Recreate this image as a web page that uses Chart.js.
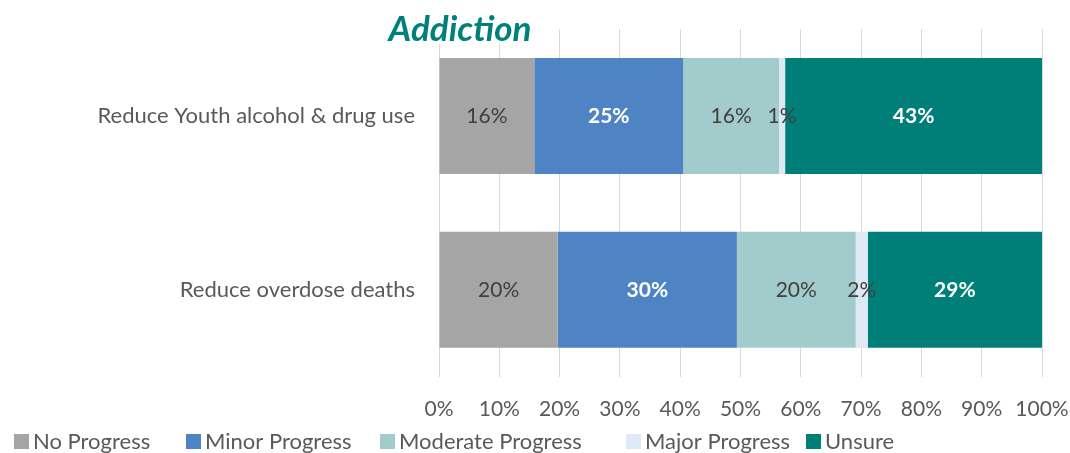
<!DOCTYPE html>
<html>
<head>
<meta charset="utf-8">
<script src="https://cdn.jsdelivr.net/npm/chart.js@4/dist/chart.umd.min.js"></script>
<style>
  html, body { margin: 0; padding: 0; background: #fff; }
  #wrap { width: 1070px; height: 453px; position: relative; }
</style>
</head>
<body>
<div id="wrap"><canvas id="myChart"></canvas></div>
<script>
(function () {
    'use strict';

    // chart data
    var categories = ['Reduce Youth alcohol & drug use', 'Reduce overdose deaths'];
    var seriesNames = ['No Progress', 'Minor Progress', 'Moderate Progress', 'Major Progress', 'Unsure'];
    var noProgress       = [15.8, 19.7];
    var minorProgress    = [24.7, 29.7];
    var moderateProgress = [15.9, 19.7];
    var majorProgress    = [1.0, 2.0];
    var unsure           = [42.6, 28.9];
    var tickValues = [0, 10, 20, 30, 40, 50, 60, 70, 80, 90, 100];

    var colors = ['#A5A5A5', '#4E84C4', '#A2CBCB', '#DDE9F5', '#007F79'];
    var boldWhite = [false, true, false, false, true];
    var legendX = [14, 186, 380, 626, 806];
    var FONT = 'Lato, "DejaVu Sans", sans-serif';

    var series = [noProgress, minorProgress, moderateProgress, majorProgress, unsure];
    var datasets = [];
    for (var i = 0; i < series.length; i++) {
        datasets.push({
            label: seriesNames[i],
            data: series[i],
            backgroundColor: colors[i],
            borderWidth: 0,
            categoryPercentage: 1,
            barPercentage: 0.667
        });
    }

    // labels inside each segment
    var segLabels = {
        id: 'segLabels',
        afterDatasetsDraw: function (chart) {
            var ctx = chart.ctx;
            ctx.save();
            ctx.textAlign = 'center';
            ctx.textBaseline = 'middle';
            chart.data.datasets.forEach(function (ds, di) {
                var meta = chart.getDatasetMeta(di);
                meta.data.forEach(function (el, j) {
                    var v = ds.data[j];
                    ctx.font = (boldWhite[di] ? 'bold ' : '') + '21px ' + FONT;
                    ctx.fillStyle = boldWhite[di] ? '#FFFFFF' : '#404040';
                    ctx.fillText(Math.round(v) + '%', (el.x + el.base) / 2, el.y);
                });
            });
            ctx.restore();
        }
    };

    // title + legend drawn by hand
    var extras = {
        id: 'extras',
        afterDraw: function (chart) {
            var ctx = chart.ctx;
            ctx.save();
            ctx.fillStyle = '#FFFFFF';
            ctx.fillRect(382, 8, 156, 36);
            ctx.font = 'italic bold 35px ' + FONT;
            ctx.fillStyle = '#00807A';
            ctx.textAlign = 'center';
            ctx.textBaseline = 'middle';
            ctx.fillText('Addiction', 460, 30);

            ctx.font = '22px ' + FONT;
            ctx.textAlign = 'left';
            var y = 442;
            chart.data.datasets.forEach(function (ds, k) {
                var x = legendX[k];
                ctx.fillStyle = ds.backgroundColor;
                ctx.fillRect(x, y - 8, 15, 15);
                ctx.fillStyle = '#595959';
                ctx.fillText(ds.label, x + 19, y);
            });
            ctx.restore();
        }
    };

    var config = {
        type: 'bar',
        data: { labels: categories, datasets: datasets },
        options: {
            indexAxis: 'y',
            responsive: true,
            maintainAspectRatio: false,
            animation: false,
            layout: { padding: { top: 29, bottom: 11, right: 0, left: 0 } },
            scales: {
                x: {
                    stacked: true,
                    min: 0,
                    max: 100,
                    afterBuildTicks: function (axis) {
                        axis.ticks = tickValues.map(function (v) { return { value: v }; });
                    },
                    afterFit: function (axis) { axis.paddingRight = 28; axis.paddingLeft = 0; },
                    grid: { color: '#D9D9D9', lineWidth: 1, drawTicks: false },
                    border: { display: false },
                    ticks: {
                        padding: 20,
                        color: '#595959',
                        font: { family: FONT, size: 21 },
                        maxRotation: 0,
                        callback: function (v) { return v + '%'; }
                    }
                },
                y: {
                    stacked: true,
                    afterFit: function (axis) {
                        axis.width = 439;
                        axis.paddingTop = 0;
                        axis.paddingBottom = 0;
                    },
                    grid: { display: false, drawTicks: false },
                    border: { display: false },
                    ticks: {
                        padding: 24,
                        color: '#595959',
                        font: { family: FONT, size: 22 }
                    }
                }
            },
            plugins: {
                legend: { display: false },
                tooltip: { enabled: false }
            }
        },
        plugins: [segLabels, extras]
    };

    new Chart(document.getElementById('myChart'), config);
}());
</script>
</body>
</html>
